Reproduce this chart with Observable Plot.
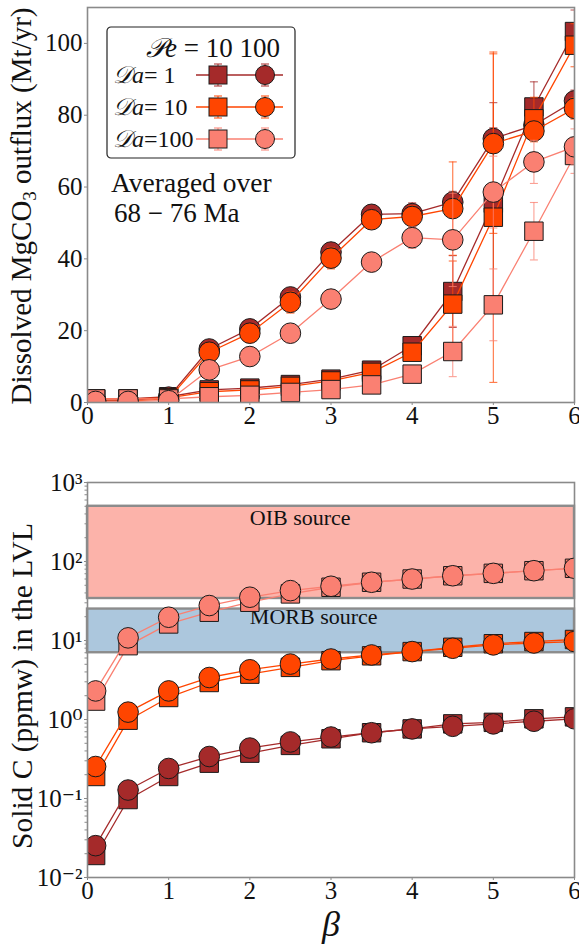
<!DOCTYPE html>
<html><head><meta charset="utf-8">
<script src="https://cdn.jsdelivr.net/npm/d3@7"></script>
<script src="https://cdn.jsdelivr.net/npm/@observablehq/plot@0.6"></script>
<style>
body{margin:0;background:#fff;}
#wrap{position:relative;width:579px;height:945px;font-family:"Liberation Serif","DejaVu Serif",serif;color:#111;overflow:hidden;}
#wrap svg{display:block;}
.ov{position:absolute;white-space:nowrap;}
</style></head><body><div id="wrap"></div>
<script>
// ---------- data ----------
const beta = [0.1, 0.5, 1, 1.5, 2, 2.5, 3, 3.5, 4, 4.5, 5, 5.5, 6];
const DaLevels = ["1", "10", "100"];
const PeLevels = ["10", "100"];            // Pe=10 -> squares, Pe=100 -> circles
const DaColors = ["#a52a2a", "#ff4500", "#fa8072"];

// Top panel: dissolved MgCO3 outflux (Mt/yr), averaged over 68-76 Ma
const flux_Da1_Pe10    = [1.0, 1.0, 1.6, 3.5, 4.0, 5.0, 6.5, 9.0, 15.8, 30.9, 55.5, 82.3, 103.3];
const flux_Da1_Pe100   = [0.5, 0.5, 1.5, 14.9, 20.5, 29.4, 41.9, 52.4, 52.6, 55.8, 73.5, 77.2, 84.0];
const flux_Da10_Pe10   = [1.0, 1.0, 1.3, 3.0, 3.5, 4.5, 6.0, 8.4, 14.0, 27.4, 51.6, 79.0, 99.5];
const flux_Da10_Pe100  = [0.4, 0.4, 1.0, 14.0, 19.3, 27.9, 40.2, 50.9, 51.8, 54.0, 72.1, 75.6, 81.9];
const flux_Da100_Pe10  = [1.0, 1.0, 1.0, 1.6, 2.0, 2.8, 3.6, 4.9, 7.9, 14.2, 27.2, 47.7, 68.8];
const flux_Da100_Pe100 = [0.3, 0.3, 0.5, 9.1, 12.8, 19.3, 28.8, 39.1, 45.9, 45.3, 58.6, 67.0, 71.2];

// error bar half-widths (Mt/yr)
const err_Da1_Pe10    = [0, 0, 0, 0.5, 0.5, 0.5, 1, 1, 2, 10, 28, 7, 6];
const err_Da1_Pe100   = [0, 0, 0, 1, 1.5, 2.5, 2.5, 1.5, 3, 3, 3, 3, 3];
const err_Da10_Pe10   = [0, 0, 0, 0.5, 0.5, 0.5, 1, 1, 2, 12, 46, 6, 6];
const err_Da10_Pe100  = [0, 0, 0, 1, 1.5, 3, 3, 1.5, 3, 13, 25, 3, 3];
const err_Da100_Pe10  = [0, 0, 0, 0.5, 0.5, 0.5, 1, 1, 2, 7, 10, 8, 5];
const err_Da100_Pe100 = [0, 0, 0, 0.5, 1, 2.5, 2.5, 1, 3, 13, 10, 6, 5];

// Bottom panel: solid C (ppmw) in the LVL
const solid_Da1_Pe10    = [0.019, 0.097, 0.19, 0.28, 0.375, 0.47, 0.57, 0.68, 0.76, 0.88, 0.92, 1.02, 1.08];
const solid_Da1_Pe100   = [0.0253, 0.128, 0.24, 0.34, 0.435, 0.52, 0.60, 0.68, 0.76, 0.82, 0.88, 0.95, 1.02];
const solid_Da10_Pe10   = [0.19, 0.98, 1.9, 2.94, 3.75, 4.57, 5.55, 6.4, 7.24, 8.2, 9.1, 9.7, 10.3];
const solid_Da10_Pe100  = [0.254, 1.24, 2.3, 3.4, 4.26, 5.03, 5.83, 6.56, 7.24, 7.98, 8.8, 9.3, 9.7];
const solid_Da100_Pe10  = [1.71, 8.6, 16.2, 22.8, 30.5, 38.9, 47.2, 54.6, 60, 66, 70.8, 76.5, 82];
const solid_Da100_Pe100 = [2.3, 10.8, 19.7, 27.7, 35.3, 42.8, 48.6, 54.6, 60, 66, 70.8, 76.5, 82];

// reservoir bands
const bandNames = ["OIB source", "MORB source"];
const bandLow   = [34, 7];
const bandHigh  = [500, 25];
const bandFill  = ["#fa8072", "#4682b4"];
const bandAlpha = [0.6, 0.45];
const bandLabelX = [2, 2];
const bandLabelY = [361, 19.7];

// ticks
const xTicks = [0, 1, 2, 3, 4, 5, 6];
const yTicksTop = [0, 20, 40, 60, 80, 100];
const yTicksBottom = [1e-2, 1e-1, 1e0, 1e1, 1e2, 1e3];

// ---------- build ----------
const fluxT = [[flux_Da1_Pe10, flux_Da1_Pe100], [flux_Da10_Pe10, flux_Da10_Pe100], [flux_Da100_Pe10, flux_Da100_Pe100]];
const errT = [[err_Da1_Pe10, err_Da1_Pe100], [err_Da10_Pe10, err_Da10_Pe100], [err_Da100_Pe10, err_Da100_Pe100]];
const solidT = [[solid_Da1_Pe10, solid_Da1_Pe100], [solid_Da10_Pe10, solid_Da10_Pe100], [solid_Da100_Pe10, solid_Da100_Pe100]];

const series = [];
DaLevels.forEach((da, i) => PeLevels.forEach((pe, j) => {
  series.push({da, pe, color: DaColors[i], symbol: j === 0 ? "square" : "circle",
    flux: fluxT[i][j], err: errT[i][j], solid: solidT[i][j]});
}));

const capSymbol = {draw(ctx, size) { ctx.moveTo(-4, 0); ctx.lineTo(4, 0); }};
const FONT = "Liberation Serif, DejaVu Serif, serif";
const frameStroke = "#8a8a8a";

function seriesMarks(s, key, withErr) {
  const rows = beta.map((b, k) => ({x: b, y: s[key][k], e: withErr ? s.err[k] : 0}));
  const m = [Plot.line(rows, {x: "x", y: "y", stroke: s.color, strokeWidth: 1.3, clip: true})];
  if (withErr) {
    const eb = rows.filter(d => d.e > 0);
    m.push(Plot.ruleX(eb, {x: "x", y1: d => d.y - d.e, y2: d => d.y + d.e, stroke: s.color, strokeWidth: 1.1, strokeOpacity: 0.75, clip: true}));
    m.push(Plot.dot(eb, {x: "x", y: d => d.y - d.e, symbol: capSymbol, r: 4, fill: "none", stroke: s.color, strokeWidth: 1.1, strokeOpacity: 0.75, clip: true}));
    m.push(Plot.dot(eb, {x: "x", y: d => d.y + d.e, symbol: capSymbol, r: 4, fill: "none", stroke: s.color, strokeWidth: 1.1, strokeOpacity: 0.75, clip: true}));
  }
  m.push(Plot.dot(rows, {x: "x", y: "y", symbol: s.symbol, r: s.symbol === "square" ? 10.4 : 10.3,
    fill: s.color, stroke: "#1a1a1a", strokeWidth: 1, clip: true}));
  return m;
}

const wrap = document.getElementById("wrap");

// Top plot
const topPlot = Plot.plot({
  width: 579, height: 430, marginLeft: 87, marginRight: 5, marginTop: 7, marginBottom: 28,
  style: {fontFamily: FONT, fontSize: "25px", color: "#111", background: "#fff"},
  x: {domain: [0, 6]},
  y: {domain: [0, 110]},
  marks: [
    ...series.flatMap(s => seriesMarks(s, "flux", true)),
    Plot.frame({stroke: frameStroke, strokeWidth: 1.6}),
    Plot.axisX(xTicks, {tickSize: 3, tickPadding: 1, stroke: frameStroke, label: null, tickFormat: d => String(d)}),
    Plot.axisY(yTicksTop, {tickSize: 3, tickPadding: 2, stroke: frameStroke, label: null, tickFormat: d => String(d)})
  ]
});
wrap.appendChild(topPlot);

// Bottom plot
const sup = {"-": "\u207B", "0": "\u2070", "1": "\u00B9", "2": "\u00B2", "3": "\u00B3", "4": "\u2074", "5": "\u2075", "6": "\u2076", "7": "\u2077", "8": "\u2078", "9": "\u2079"};
const fmtPow = v => "10" + String(Math.round(Math.log10(v))).split("").map(c => sup[c]).join("");
const minors = [];
for (let e = -2; e < 3; e++) for (let m = 2; m < 10; m++) minors.push(m * Math.pow(10, e));
const bands = bandNames.map((n, i) => ({name: n, lo: bandLow[i], hi: bandHigh[i], fill: bandFill[i], a: bandAlpha[i], lx: bandLabelX[i], ly: bandLabelY[i]}));

const bottomPlot = Plot.plot({
  width: 579, height: 515, marginLeft: 87, marginRight: 5, marginTop: 52, marginBottom: 68,
  style: {fontFamily: FONT, fontSize: "25px", color: "#111", background: "#fff"},
  x: {domain: [0, 6]},
  y: {type: "log", domain: [0.01, 1000]},
  marks: [
    Plot.rect(bands, {y1: "lo", y2: "hi", fill: "fill", fillOpacity: "a", stroke: "#8c8c8c", strokeWidth: 2.4}),
    Plot.text(bands, {x: "lx", y: "ly", text: "name", textAnchor: "start", fontSize: 22, fill: "#111"}),
    ...series.flatMap(s => seriesMarks(s, "solid", false)),
    Plot.frame({stroke: frameStroke, strokeWidth: 1.6}),
    Plot.axisX(xTicks, {tickSize: 3, tickPadding: 1, stroke: frameStroke, label: null, tickFormat: d => String(d)}),
    Plot.axisY(minors, {tickSize: 2.5, stroke: frameStroke, text: null, label: null}),
    Plot.axisY(yTicksBottom, {tickSize: 3, tickPadding: 2, stroke: frameStroke, label: null, tickFormat: fmtPow})
  ]
});
wrap.appendChild(bottomPlot);

// ---------- overlays: axis titles, annotation, legend ----------
function ov(html, css) {
  const d = document.createElement("div");
  d.className = "ov"; d.innerHTML = html; Object.assign(d.style, css); wrap.appendChild(d); return d;
}
ov("Dissolved MgCO<sub style='font-size:19px;vertical-align:-5px'>3</sub> outflux (Mt/yr)",
  {left: "23px", top: "206px", fontSize: "29px", lineHeight: "1", transform: "translate(-50%,-50%) rotate(-90deg)"});
ov("Solid C (ppmw) in the LVL",
  {left: "23px", top: "686px", fontSize: "29.5px", lineHeight: "1", transform: "translate(-50%,-50%) rotate(-90deg)"});
ov("<i>β</i>", {left: "331px", top: "924px", fontSize: "36px", transform: "translate(-50%,-50%)", lineHeight: "1"});
ov("Averaged over", {left: "111px", top: "169px", fontSize: "27.5px", lineHeight: "1"});
ov("68 − 76 Ma", {left: "114px", top: "200px", fontSize: "27px", lineHeight: "1"});

// legend
const leg = d3.select(wrap).append("svg")
  .attr("width", 190).attr("height", 133)
  .style("position", "absolute").style("left", "106px").style("top", "26px").style("overflow", "visible");
leg.append("rect").attr("x", 1).attr("y", 1).attr("width", 188).attr("height", 131).attr("rx", 4)
  .attr("fill", "#fff").attr("stroke", "#222").attr("stroke-width", 1.2);
const lt = leg.append("text").attr("x", 40).attr("y", 31).attr("font-family", FONT).attr("font-size", 27).attr("fill", "#111");
lt.append("tspan").attr("font-style", "italic").text("\uD835\uDCAB");
lt.append("tspan").attr("font-style", "italic").text("e");
lt.append("tspan").text(" = " + PeLevels.join(" "));
DaLevels.forEach((da, i) => {
  const cy = 49 + i * 32;
  const g = leg.append("g");
  const t = g.append("text").attr("x", 7).attr("y", cy + 8).attr("font-family", FONT).attr("font-size", 24).attr("fill", "#111");
  t.append("tspan").attr("font-style", "italic").text("\uD835\uDC9F");
  t.append("tspan").attr("font-style", "italic").text("a");
  t.append("tspan").text("=" + (da.length < 3 ? " " : "") + da);
  g.append("line").attr("x1", 90).attr("x2", 177).attr("y1", cy).attr("y2", cy).attr("stroke", DaColors[i]).attr("stroke-width", 1.4);
  [112, 159].forEach((cx, j) => {
    g.append("line").attr("x1", cx).attr("x2", cx).attr("y1", cy - 11).attr("y2", cy + 11).attr("stroke", DaColors[i]).attr("stroke-width", 1);
    g.append("line").attr("x1", cx - 4).attr("x2", cx + 4).attr("y1", cy - 11).attr("y2", cy - 11).attr("stroke", DaColors[i]).attr("stroke-width", 1);
    g.append("line").attr("x1", cx - 4).attr("x2", cx + 4).attr("y1", cy + 11).attr("y2", cy + 11).attr("stroke", DaColors[i]).attr("stroke-width", 1);
    if (j === 0) g.append("rect").attr("x", cx - 9).attr("y", cy - 9).attr("width", 18).attr("height", 18)
      .attr("fill", DaColors[i]).attr("stroke", "#1a1a1a").attr("stroke-width", 1);
    else g.append("circle").attr("cx", cx).attr("cy", cy).attr("r", 9.5)
      .attr("fill", DaColors[i]).attr("stroke", "#1a1a1a").attr("stroke-width", 1);
  });
});
</script></body></html>
